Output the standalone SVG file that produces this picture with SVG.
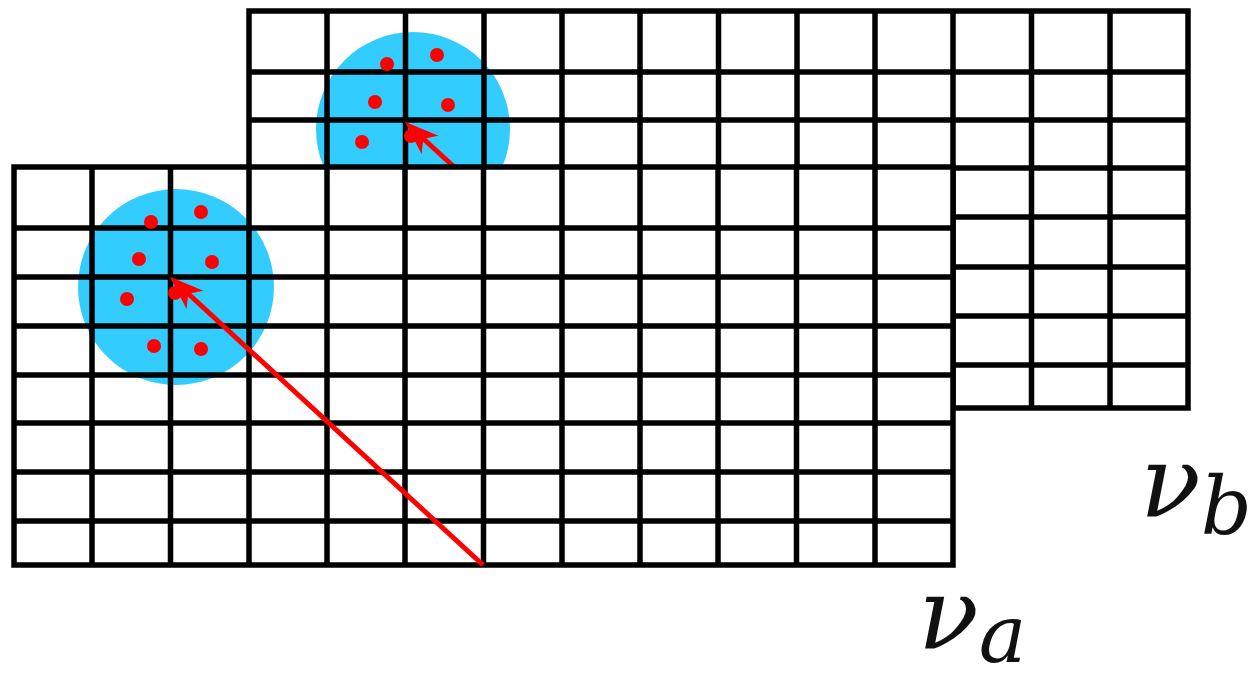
<svg xmlns="http://www.w3.org/2000/svg" width="1250" height="677" viewBox="0 0 1250 677">
<style>
.bg{fill:#ffffff;stroke:none}
.grid{fill:none;stroke:#000000;stroke-width:5.5;stroke-linecap:square;stroke-linejoin:miter}
.halo{fill:#33ccff;stroke:none}
.pt{fill:#ff0000;stroke:none}
.arrow{fill:none;stroke:#ff0000;stroke-width:5;marker-end:url(#head)}
.lbl{font-family:"DejaVu Serif","Liberation Serif",serif;font-style:italic;fill:#111111}
</style>
<defs>
<marker id="head" markerUnits="userSpaceOnUse" markerWidth="40" markerHeight="30" viewBox="0 -15 40 30" refX="19" refY="0" orient="auto">
<path d="M34,0 L0,-12.5 L9,0 L0,12.5 Z" fill="#ff0000"/>
</marker>
</defs>
<rect width="1250" height="677" fill="#ffffff"/>
<g id="grid-b">
<rect class="bg" x="249" y="11" width="939" height="397"/>
<circle class="halo" cx="413" cy="129" r="97"/>
<path class="grid" d="M249,11H1188V408H249Z M327,11V408 M405.5,11V408 M484,11V408 M562,11V408 M640,11V408 M718.5,11V408 M797,11V408 M875,11V408 M953,11V408 M1031.5,11V408 M1110,11V408 M249,72H1188 M249,120H1188 M249,168H1188 M249,217H1188 M249,267H1188 M249,316H1188 M249,365H1188"/>
<circle class="pt" cx="387" cy="64" r="7"/>
<circle class="pt" cx="437" cy="55" r="7"/>
<circle class="pt" cx="375" cy="102" r="7"/>
<circle class="pt" cx="448" cy="105" r="7"/>
<circle class="pt" cx="362" cy="142" r="7"/>
<circle class="pt" cx="411" cy="136" r="7"/>
</g>
<g id="connectors-b">
<path class="arrow" d="M718,409 L416,132"/>
</g>
<g id="grid-a">
<rect class="bg" x="14" y="167" width="939" height="398"/>
<circle class="halo" cx="176" cy="287" r="98"/>
<path class="grid" d="M14,167H953V565H14Z M92,167V565 M170.5,167V565 M249,167V565 M327,167V565 M405,167V565 M483.5,167V565 M562,167V565 M640,167V565 M718,167V565 M796.5,167V565 M875,167V565 M14,228H953 M14,277H953 M14,326H953 M14,375H953 M14,423H953 M14,472H953 M14,521H953"/>
<circle class="pt" cx="151" cy="222" r="7"/>
<circle class="pt" cx="201" cy="212" r="7"/>
<circle class="pt" cx="139" cy="259" r="7"/>
<circle class="pt" cx="212" cy="262" r="7"/>
<circle class="pt" cx="127" cy="299" r="7"/>
<circle class="pt" cx="175" cy="293" r="7"/>
<circle class="pt" cx="154" cy="346" r="7"/>
<circle class="pt" cx="201" cy="349" r="7"/>
</g>
<g id="connectors">
<path class="arrow" d="M483,565 L181,287"/>
</g>
<g id="labels">
<text class="lbl" x="918" y="648" font-size="100">ν<tspan font-size="80" dy="14">a</tspan></text>
<text class="lbl" x="1140" y="516" font-size="100">ν<tspan font-size="80" dy="18">b</tspan></text>
</g>
</svg>
